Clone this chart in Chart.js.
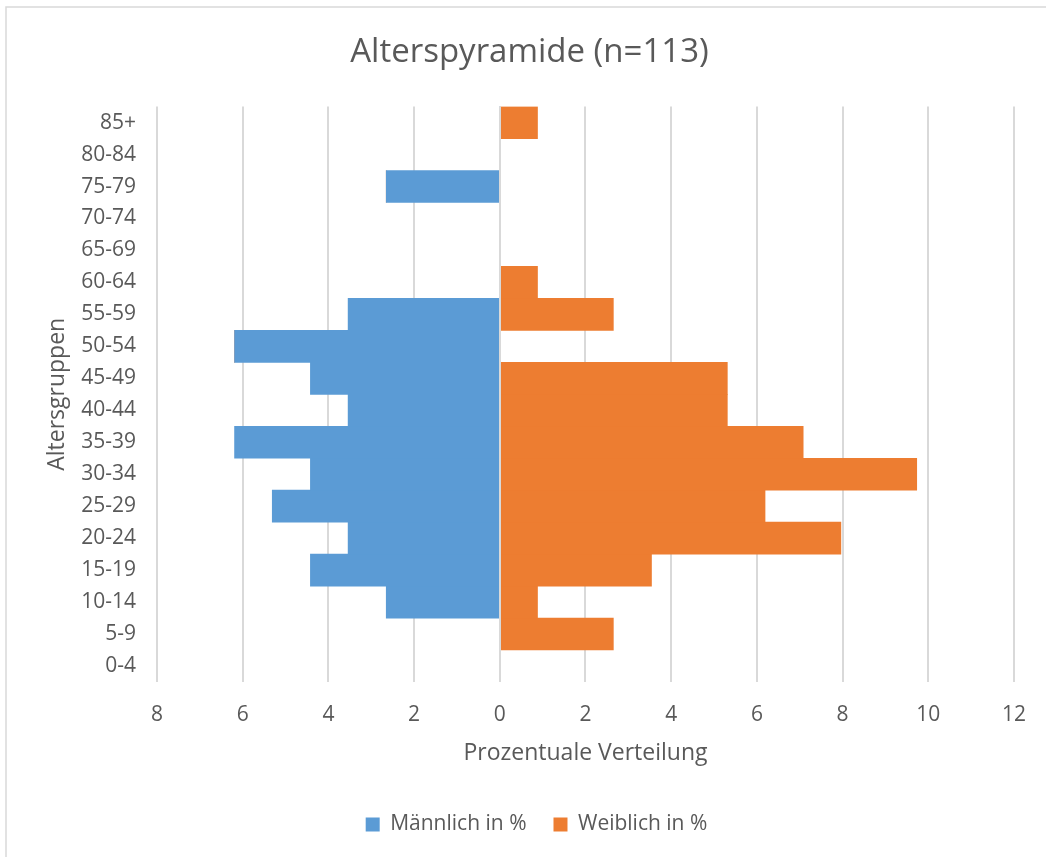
<!DOCTYPE html>
<html>
<head>
<meta charset="utf-8">
<title>Alterspyramide</title>
<script src="https://cdn.jsdelivr.net/npm/chart.js@4"></script>
<style>
  html, body { margin: 0; padding: 0; background: #fff; }
  #wrap { position: relative; width: 1046px; height: 857px; }
</style>
</head>
<body>
<div id="wrap"><canvas id="myChart" width="1046" height="857"></canvas></div>
<script>
// Altersgruppen, von unten nach oben
const ageGroups = ['0-4', '5-9', '10-14', '15-19', '20-24', '25-29', '30-34', '35-39',
  '40-44', '45-49', '50-54', '55-59', '60-64', '65-69', '70-74', '75-79', '80-84', '85+'];

// Prozent (n=113)
const maleValues = [0, 0, 2.65, 4.42, 3.54, 5.31, 4.42, 6.19, 3.54, 4.42, 6.19, 3.54, 0, 0, 0, 2.65, 0, 0];
const femaleValues = [0, 2.65, 0.88, 3.54, 7.96, 6.19, 9.73, 7.08, 5.31, 5.31, 0, 2.65, 0.88, 0, 0, 0, 0, 0.88];

const xTicks = [-8, -6, -4, -2, 0, 2, 4, 6, 8, 10, 12];

const textColor = '#595959';
const gridColor = '#d9d9d9';
const font = "'Open Sans', 'DejaVu Sans', sans-serif";

// frame: only top and left edge are visible in the picture
const framePlugin = {
  id: 'frame',
  beforeDraw(chart) {
    const ctx = chart.ctx;
    ctx.save();
    ctx.fillStyle = '#fff';
    ctx.fillRect(0, 0, chart.width, chart.height);
    ctx.strokeStyle = gridColor;
    ctx.lineWidth = 1.5;
    ctx.beginPath();
    ctx.moveTo(6, chart.height);
    ctx.lineTo(6, 7);
    ctx.lineTo(chart.width, 7);
    ctx.stroke();
    ctx.restore();
  }
};

// the zero line shows between the two sides
const zeroLine = {
  id: 'zeroLine',
  afterDatasetsDraw(chart) {
    const ctx = chart.ctx;
    const x = Math.round(chart.scales.x.getPixelForValue(0));
    const area = chart.chartArea;
    ctx.save();
    ctx.strokeStyle = gridColor;
    ctx.lineWidth = 2;
    ctx.beginPath();
    ctx.moveTo(x, area.top);
    ctx.lineTo(x, area.bottom);
    ctx.stroke();
    ctx.restore();
  }
};

// legend sits a bit right of the plot centre
const legendShift = {
  id: 'legendShift',
  afterLayout(chart) {
    chart.legend.left += 7;
    chart.legend.right += 7;
  }
};

const myChart = document.getElementById('myChart');

new Chart(myChart, {
  type: 'bar',
  data: {
    labels: ageGroups,
    datasets: [
      {
        label: 'Männlich in %',
        data: maleValues.map(v => -v),
        backgroundColor: '#5b9bd5',
        barPercentage: 1,
        categoryPercentage: 1
      },
      {
        label: 'Weiblich in %',
        data: femaleValues,
        backgroundColor: '#ed7d31',
        barPercentage: 1,
        categoryPercentage: 1
      }
    ]
  },
  options: {
    indexAxis: 'y',
    responsive: false,
    animation: false,
    layout: {
      padding: { top: 20, left: 44, right: 31, bottom: 12 }
    },
    plugins: {
      title: {
        display: true,
        text: 'Alterspyramide (n=113)',
        color: textColor,
        font: { family: font, size: 33, weight: 'normal' },
        padding: { top: 13, bottom: 34 }
      },
      legend: {
        position: 'bottom',
        labels: {
          color: textColor,
          font: { family: font, size: 21 },
          boxWidth: 14,
          boxHeight: 14,
          padding: 27
        }
      },
      tooltip: { enabled: false }
    },
    scales: {
      x: {
        stacked: true,
        min: -8,
        max: 12,
        afterBuildTicks(scale) {
          scale.ticks = xTicks.map(v => ({ value: v }));
        },
        ticks: {
          color: textColor,
          font: { family: font, size: 21 },
          padding: 20,
          callback: v => Math.abs(v)
        },
        grid: { color: gridColor, lineWidth: 2, drawTicks: false },
        border: { display: false },
        title: {
          display: true,
          text: 'Prozentuale Verteilung',
          color: textColor,
          font: { family: font, size: 23 },
          padding: { top: 0, bottom: 20 }
        },
        afterFit(scale) { scale.height = 105; }
      },
      y: {
        stacked: true,
        reverse: true,
        ticks: {
          color: textColor,
          font: { family: font, size: 21 },
          padding: 13,
          autoSkip: false
        },
        grid: { display: false },
        border: { display: false },
        title: {
          display: true,
          text: 'Altersgruppen',
          color: textColor,
          font: { family: font, size: 23 },
          padding: 0
        },
        afterFit(scale) { scale.width = 113; }
      }
    }
  },
  plugins: [framePlugin, zeroLine, legendShift]
});
</script>
</body>
</html>
